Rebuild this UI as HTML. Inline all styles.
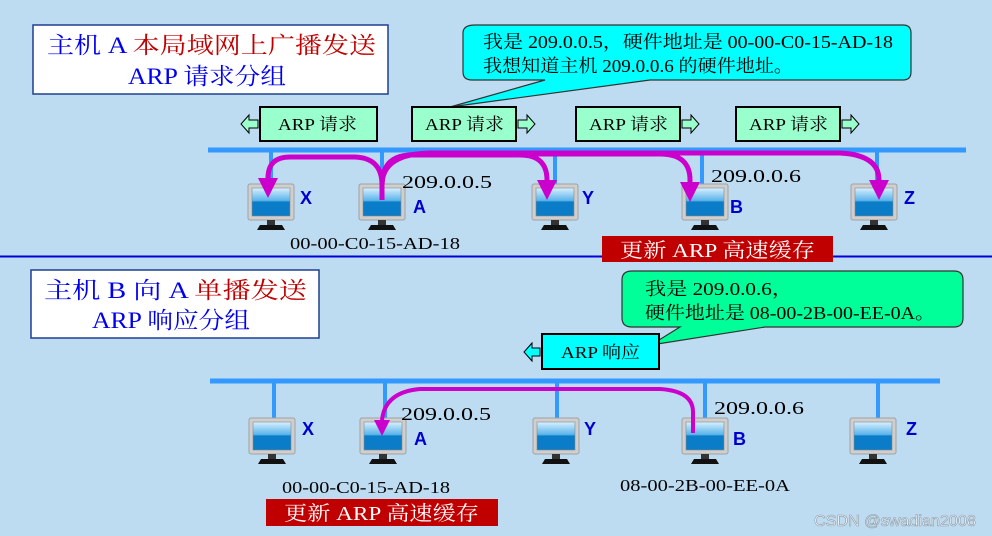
<!DOCTYPE html>
<html><head><meta charset="utf-8"><style>
html,body{margin:0;padding:0;background:#bedcf1;}
svg{display:block}
.s{font-family:"Liberation Serif","Noto Serif CJK SC",serif;}
.l{font-family:"Liberation Sans","DejaVu Sans",sans-serif;font-weight:bold;fill:#0000cc;font-size:18px}
</style></head><body>
<svg width="992" height="536" viewBox="0 0 992 536" xmlns="http://www.w3.org/2000/svg">
<defs>
<linearGradient id="sg" x1="0" y1="0" x2="0" y2="1">
<stop offset="0" stop-color="#d8f0ff"/><stop offset="0.45" stop-color="#5ab4ea"/><stop offset="0.5" stop-color="#0a7cc8"/><stop offset="1" stop-color="#0a7cc8"/></linearGradient>
<g id="pc">
<rect x="0" y="0" width="46" height="36" rx="2" fill="#cfcfcf" stroke="#a0a0a0"/>
<rect x="4" y="4" width="38" height="28" fill="url(#sg)" stroke="#888" stroke-width="0.6"/>
<rect x="19" y="36" width="8" height="5" fill="#333"/>
<polygon points="9,46 12,41 34,41 37,46" fill="#111"/>
</g>
<marker id="ah" markerWidth="4" markerHeight="4" refX="2" refY="2" orient="auto" markerUnits="strokeWidth"><path d="M0,0 L4,2 L0,4 z" fill="#cc00cc"/></marker>
</defs>
<rect width="992" height="536" fill="#bedcf1"/>

<!-- TOP -->
<rect x="33" y="25" width="355" height="69" fill="#fff" stroke="#1f3f8f" stroke-width="1.5"/>
<text class="s" x="47" y="53" font-size="23" textLength="329" lengthAdjust="spacingAndGlyphs"><tspan fill="#0000ee">主机 A </tspan><tspan fill="#c00000">本局域网上广播发送</tspan></text>
<text class="s" x="128" y="84" font-size="23" fill="#0000ee" textLength="158" lengthAdjust="spacingAndGlyphs">ARP 请求分组</text>

<path d="M475,25 H903 Q911,25 911,33 V72 Q911,80 903,80 H650 L450,107 L545,80 H472 Q463,80 463,72 V33 Q463,25 475,25 z" fill="#00ffff" stroke="#333" stroke-width="1.2"/>
<text class="s" x="483" y="48" font-size="18" fill="#000" textLength="410" lengthAdjust="spacingAndGlyphs">我是 209.0.0.5，硬件地址是 00-00-C0-15-AD-18</text>
<text class="s" x="483" y="72" font-size="18" fill="#000" textLength="310" lengthAdjust="spacingAndGlyphs">我想知道主机 209.0.0.6 的硬件地址。</text>

<g stroke="#000" stroke-width="2" fill="#99ffcc">
<rect x="260" y="107" width="117" height="34"/>
<rect x="412" y="107" width="104" height="34"/>
<rect x="576" y="107" width="104" height="34"/>
<rect x="736" y="107" width="104" height="34"/>
</g>
<g class="s" font-size="17" fill="#000">
<text x="278" y="130" textLength="79" lengthAdjust="spacingAndGlyphs">ARP 请求</text><text x="425" y="130" textLength="79" lengthAdjust="spacingAndGlyphs">ARP 请求</text><text x="589" y="130" textLength="79" lengthAdjust="spacingAndGlyphs">ARP 请求</text><text x="749" y="130" textLength="79" lengthAdjust="spacingAndGlyphs">ARP 请求</text>
</g>
<g fill="#99ffcc" stroke="#000" stroke-width="1">
<path d="M258,120 H249 V115 L241,124 L249,133 V128 H258 z"/>
<path d="M518,120 H527 V115 L535,124 L527,133 V128 H518 z"/>
<path d="M682,120 H691 V115 L699,124 L691,133 V128 H682 z"/>
<path d="M842,120 H851 V115 L859,124 L851,133 V128 H842 z"/>
</g>

<line x1="208" y1="150" x2="966" y2="150" stroke="#3399ff" stroke-width="5"/>
<g stroke="#3399ff" stroke-width="4">
<line x1="271" y1="150" x2="271" y2="184"/><line x1="382" y1="150" x2="382" y2="184"/>
<line x1="555" y1="150" x2="555" y2="184"/><line x1="702" y1="150" x2="702" y2="184"/><line x1="877" y1="150" x2="877" y2="184"/>
</g>
<use href="#pc" x="248" y="184"/><use href="#pc" x="359" y="184"/><use href="#pc" x="532" y="184"/><use href="#pc" x="682" y="184"/><use href="#pc" x="851" y="184"/>
<text class="l" x="300" y="204">X</text><text class="l" x="413" y="213">A</text><text class="l" x="582" y="204">Y</text><text class="l" x="730" y="213">B</text><text class="l" x="904" y="204">Z</text>
<text class="s" x="402" y="188" font-size="18" fill="#000" textLength="90" lengthAdjust="spacingAndGlyphs">209.0.0.5</text>
<text class="s" x="711" y="182" font-size="18" fill="#000" textLength="90" lengthAdjust="spacingAndGlyphs">209.0.0.6</text>
<text class="s" x="290" y="249" font-size="17" fill="#000" textLength="170" lengthAdjust="spacingAndGlyphs">00-00-C0-15-AD-18</text>

<g fill="none" stroke="#cc00cc" stroke-width="5">
<path d="M382,200 V185 Q382,158 355,157 H290 Q268,157 268,178 V188" marker-end="url(#ah)"/>
<path d="M382,200 V185 Q382,156 410,155 H520 Q547,155 547,180 V190" marker-end="url(#ah)"/>
<path d="M382,200 V185 Q382,155 420,154 H660 Q690,154 690,180 V192" marker-end="url(#ah)"/>
<path d="M382,200 V185 Q382,154 430,153 H840 Q879,155 879,180 V190" marker-end="url(#ah)"/>
</g>

<rect x="602" y="236" width="231" height="26" fill="#c00000"/>
<text class="s" x="620" y="257" font-size="20" fill="#fff" textLength="195" lengthAdjust="spacingAndGlyphs">更新 ARP 高速缓存</text>
<line x1="0" y1="256.5" x2="602" y2="256.5" stroke="#0000dd" stroke-width="2"/>
<line x1="833" y1="256.5" x2="992" y2="256.5" stroke="#0000dd" stroke-width="2"/>

<!-- BOTTOM -->
<rect x="31" y="270" width="288" height="68" fill="#fff" stroke="#1f3f8f" stroke-width="1.5"/>
<text class="s" x="44" y="298" font-size="23" textLength="263" lengthAdjust="spacingAndGlyphs"><tspan fill="#0000ee">主机 B 向 A </tspan><tspan fill="#c00000">单播发送</tspan></text>
<text class="s" x="92" y="328" font-size="23" fill="#0000ee" textLength="158" lengthAdjust="spacingAndGlyphs">ARP 响应分组</text>

<path d="M632,271 H954 Q963,271 963,280 V318 Q963,327 954,327 H765 L651,345 L680,327 H632 Q622,327 622,318 V280 Q622,271 632,271 z" fill="#00ff99" stroke="#333" stroke-width="1.2"/>
<text class="s" x="645" y="295" font-size="18" fill="#000" textLength="148" lengthAdjust="spacingAndGlyphs">我是 209.0.0.6，</text>
<text class="s" x="645" y="319" font-size="18" fill="#000" textLength="290" lengthAdjust="spacingAndGlyphs">硬件地址是 08-00-2B-00-EE-0A。</text>

<rect x="542" y="334" width="117" height="35" fill="#00ffff" stroke="#000" stroke-width="2"/>
<text class="s" x="561" y="358" font-size="17" fill="#000" textLength="79" lengthAdjust="spacingAndGlyphs">ARP 响应</text>
<path d="M540,348 H532 V343 L524,352 L532,361 V356 H540 z" fill="#00ffff" stroke="#000" stroke-width="1"/>

<line x1="210" y1="381" x2="940" y2="381" stroke="#3399ff" stroke-width="5"/>
<g stroke="#3399ff" stroke-width="4">
<line x1="274" y1="381" x2="274" y2="418"/><line x1="385" y1="381" x2="385" y2="418"/>
<line x1="557" y1="381" x2="557" y2="418"/><line x1="705" y1="381" x2="705" y2="418"/><line x1="878" y1="381" x2="878" y2="418"/>
</g>
<use href="#pc" x="249" y="418"/><use href="#pc" x="360" y="418"/><use href="#pc" x="533" y="418"/><use href="#pc" x="682" y="418"/><use href="#pc" x="850" y="418"/>
<text class="l" x="302" y="435">X</text><text class="l" x="414" y="445">A</text><text class="l" x="584" y="435">Y</text><text class="l" x="733" y="445">B</text><text class="l" x="906" y="435">Z</text>
<text class="s" x="401" y="420" font-size="18" fill="#000" textLength="90" lengthAdjust="spacingAndGlyphs">209.0.0.5</text>
<text class="s" x="714" y="414" font-size="18" fill="#000" textLength="90" lengthAdjust="spacingAndGlyphs">209.0.0.6</text>
<text class="s" x="282" y="493" font-size="17" fill="#000" textLength="168" lengthAdjust="spacingAndGlyphs">00-00-C0-15-AD-18</text>
<text class="s" x="620" y="491" font-size="17" fill="#000" textLength="170" lengthAdjust="spacingAndGlyphs">08-00-2B-00-EE-0A</text>

<path d="M693,433 V412 Q693,391 660,389 H420 Q385,392 382,420 V428" fill="none" stroke="#cc00cc" stroke-width="4" marker-end="url(#ah)"/>

<rect x="266" y="499" width="232" height="27" fill="#c00000"/>
<text class="s" x="284" y="520" font-size="20" fill="#fff" textLength="195" lengthAdjust="spacingAndGlyphs">更新 ARP 高速缓存</text>

<text x="814" y="526" font-family="Liberation Sans, sans-serif" font-size="16" fill="#f4f8fb" stroke="#8a98a4" stroke-width="0.6" textLength="162" lengthAdjust="spacingAndGlyphs">CSDN @swadian2008</text>
</svg>
</body></html>
